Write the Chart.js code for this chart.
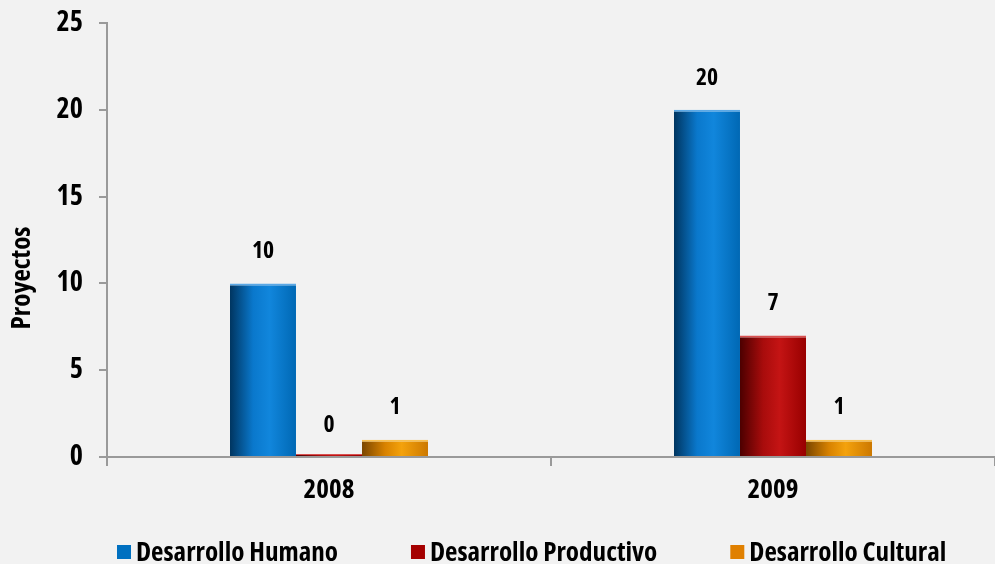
<!DOCTYPE html>
<html>
<head>
<meta charset="utf-8">
<script src="https://cdn.jsdelivr.net/npm/chart.js@4/dist/chart.umd.min.js"></script>
<style>
  html, body { margin: 0; padding: 0; background: #f2f2f2; }
  #wrap { width: 995px; height: 564px; }
</style>
</head>
<body>
<div id="wrap"><canvas id="myChart" width="995" height="564"></canvas></div>
<script>
"use strict";

// Data
let years = ["2008", "2009"];
let humano = [10, 20];
let productivo = [0, 7];
let cultural = [1, 1];
let seriesNames = ["Desarrollo Humano", "Desarrollo Productivo", "Desarrollo Cultural"];
let yTicks = [0, 5, 10, 15, 20, 25];
let yTitle = "Proyectos";

const CAT_PCT = 0.446;

// The original uses a narrow bold face. Pick the narrowest one that is installed.
let probe = document.createElement("canvas").getContext("2d");
function widthOf(weight, fam, fallback) {
    probe.font = weight + " 24px " + fam + ", " + fallback;
    return probe.measureText(seriesNames[0]).width;
}
let candidates = [
    ["bold", "'Liberation Sans Narrow'"],
    ["bold", "'Arial Narrow'"],
    ["bold", "'DejaVu Sans Condensed'"],
    ["bold", "'Roboto Condensed'"],
    ["bold", "'Open Sans Condensed'"],
    ["bold condensed", "'Open Sans'"],
    ["bold condensed", "'Noto Sans'"],
    ["bold condensed", "'DejaVu Sans'"],
    ["bold", "'Liberation Sans'"],
    ["bold", "Arial"]
];
let pick = null;
candidates.forEach(c => {
    let a = widthOf(c[0], c[1], "monospace");
    let b = widthOf(c[0], c[1], "serif");
    if (Math.abs(a - b) > 0.5) return;          // not installed
    if (!pick || a < pick.w) pick = { weight: c[0], family: c[1], w: a };
});
if (!pick) pick = { weight: "bold", family: "sans-serif", w: widthOf("bold", "sans-serif", "serif") };

const FONT = pick.family + ", 'Liberation Sans', sans-serif";
const WEIGHT = pick.weight;
// "Desarrollo Humano" is about 202px wide in the reference
let base = 24 * 202 / pick.w;

// flat colours (legend) and cylinder shading stops
let flatColors = ["#0070c0", "#a50000", "#e08000"];
let topColors = ["#5aa8e6", "#d85050", "#f8c050"];
let shades = [
    ["#003560", "#0a78cc", "#1186dc", "#0068b4"],
    ["#4c0000", "#a80c0c", "#c41414", "#980000"],
    ["#7a4600", "#d88200", "#f4a20c", "#cc7800"]
];

// horizontal gradient across each bar, worked out from the x scale
function cylinder(ctx) {
    let chart = ctx.chart;
    let xScale = chart.scales.x;
    if (!chart.chartArea || !xScale || ctx.dataIndex === undefined) {
        return flatColors[ctx.datasetIndex];
    }
    let n = chart.data.datasets.length;
    let catW = xScale.width / chart.data.labels.length;
    let groupW = catW * CAT_PCT;
    let barW = groupW / n;
    let left = xScale.getPixelForValue(ctx.dataIndex) - groupW / 2 + ctx.datasetIndex * barW;
    let s = shades[ctx.datasetIndex];
    let g = chart.ctx.createLinearGradient(left, 0, left + barW, 0);
    g.addColorStop(0, s[0]);
    g.addColorStop(0.35, s[1]);
    g.addColorStop(0.6, s[2]);
    g.addColorStop(1, s[3]);
    return g;
}

// value labels above the bars
const valueLabels = {
    id: "valueLabels",
    afterDatasetsDraw(chart) {
        let c = chart.ctx;
        c.save();
        c.font = WEIGHT + " " + (base * 0.875) + "px " + FONT;
        c.fillStyle = "#000";
        c.textAlign = "center";
        c.textBaseline = "middle";
        chart.data.datasets.forEach((ds, i) => {
            chart.getDatasetMeta(i).data.forEach((bar, j) => {
                let top = chart.scales.y.getPixelForValue(ds.data[j]);
                c.fillText(String(ds.data[j]), bar.x, top - 32);
            });
        });
        c.restore();
    }
};

// axis title sits lower than the chart-area middle in the original, so draw it here
const sideTitle = {
    id: "sideTitle",
    afterDraw(chart) {
        let c = chart.ctx;
        c.save();
        c.translate(22, 278);
        c.rotate(-Math.PI / 2);
        c.font = WEIGHT + " " + (base * 1.0) + "px " + FONT;
        c.fillStyle = "#000";
        c.textAlign = "center";
        c.textBaseline = "middle";
        c.fillText(yTitle, 0, 0);
        c.restore();
    }
};

// legend row along the bottom (built-in legend can't space items this wide)
const bottomLegend = {
    id: "bottomLegend",
    afterDraw(chart) {
        let c = chart.ctx;
        let box = 14, gapText = 5, gapItem = 73;
        let x = 117;
        let y = 552;
        c.save();
        c.font = WEIGHT + " " + base + "px " + FONT;
        c.textBaseline = "middle";
        c.textAlign = "left";
        chart.data.datasets.forEach((ds, i) => {
            c.fillStyle = flatColors[i];
            c.fillRect(x, y - box / 2, box, box);
            c.fillStyle = "#000";
            c.fillText(ds.label, x + box + gapText, y + 1);
            x += box + gapText + c.measureText(ds.label).width + gapItem;
        });
        c.restore();
    }
};

let data = {
    labels: years,
    datasets: [
        { label: seriesNames[0], data: humano },
        { label: seriesNames[1], data: productivo },
        { label: seriesNames[2], data: cultural }
    ].map((d, i) => Object.assign(d, {
        backgroundColor: cylinder,
        borderColor: topColors[i],
        borderWidth: { top: 2, left: 0, right: 0, bottom: 0 },
        borderSkipped: "bottom",
        minBarLength: 3,
        categoryPercentage: CAT_PCT,
        barPercentage: 1
    }))
};

const config = {
    type: "bar",
    data: data,
    options: {
        responsive: false,
        animation: false,
        layout: { padding: { top: 23, right: -6, bottom: 0, left: 0 } },
        plugins: {
            legend: { display: false },
            tooltip: { enabled: false }
        },
        scales: {
            x: {
                grid: { display: true, offset: true, drawOnChartArea: false, drawTicks: true,
                        tickLength: 9, color: "#9a9a9a", lineWidth: 2 },
                border: { display: true, color: "#9a9a9a", width: 2 },
                ticks: { color: "#000", padding: 8, font: { family: FONT, size: base, weight: WEIGHT } },
                afterFit(scale) { scale.height = 107; }
            },
            y: {
                min: 0,
                max: 25,
                afterBuildTicks(scale) { scale.ticks = yTicks.map(v => ({ value: v })); },
                grid: { display: true, drawOnChartArea: false, drawTicks: true,
                        tickLength: 8, color: "#9a9a9a", lineWidth: 2 },
                border: { display: true, color: "#9a9a9a", width: 2 },
                ticks: { color: "#000", padding: 16, font: { family: FONT, size: base * 1.04, weight: WEIGHT } },
                afterFit(scale) {
                    scale.width = 107;
                    scale.paddingTop = 0;
                    scale.paddingBottom = 0;
                }
            }
        }
    },
    plugins: [valueLabels, sideTitle, bottomLegend]
};

const theChart = new Chart(document.getElementById("myChart"), config);
</script>
</body>
</html>
